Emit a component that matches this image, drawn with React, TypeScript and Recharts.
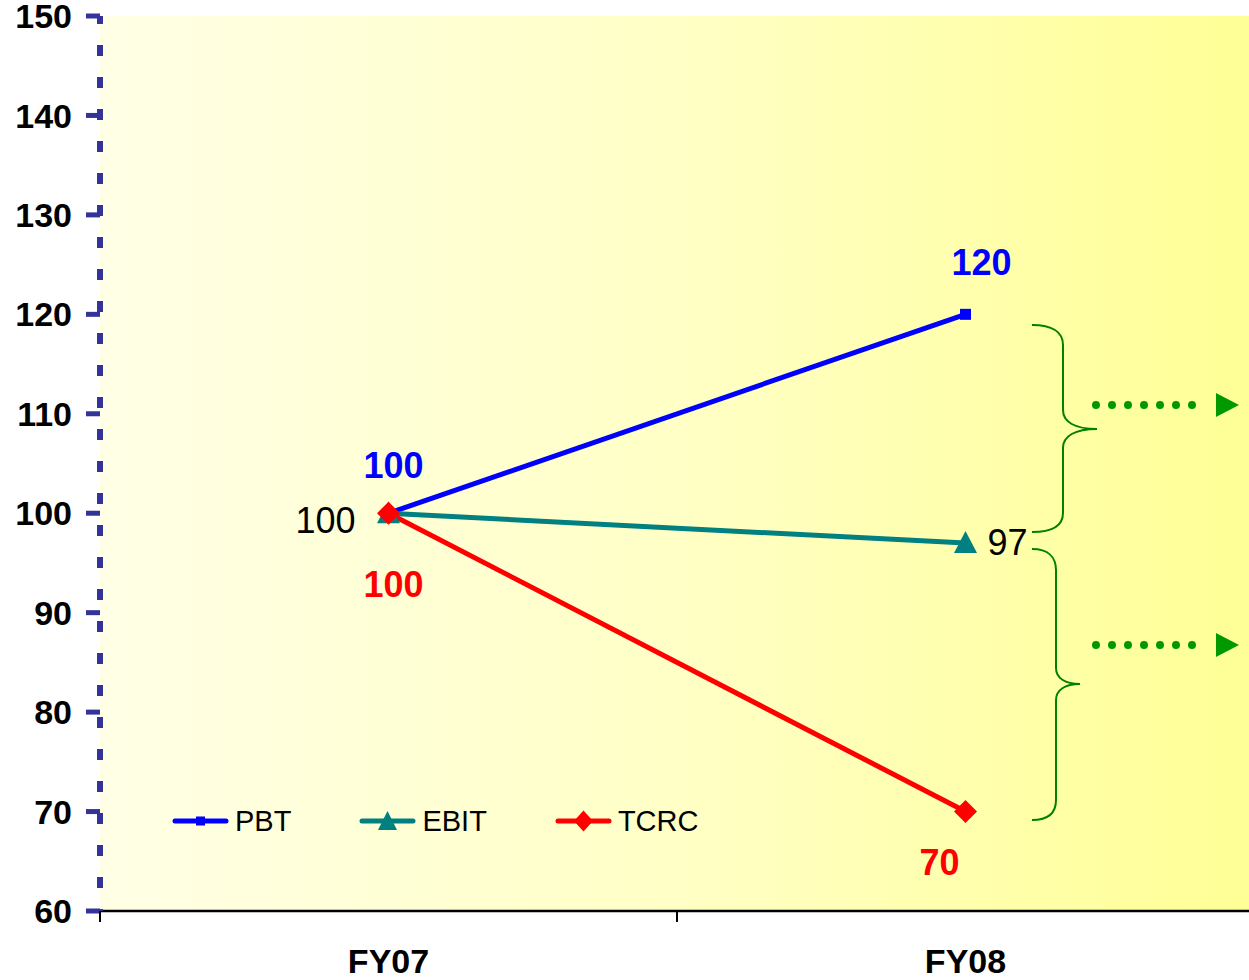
import React from 'react';
import { LineChart, Line, XAxis, YAxis, CartesianGrid, Legend, LabelList } from 'recharts';

const categories = ['FY07', 'FY08'];
const pbtValues = [100, 120];
const ebitValues = [100, 97];
const tcrcValues = [100, 70];
const yTicks = [60, 70, 80, 90, 100, 110, 120, 130, 140, 150];
const seriesNames = ['PBT', 'EBIT', 'TCRC'];

const data = categories.map((c, i) => ({
  pos: i + 0.5,
  name: c,
  PBT: pbtValues[i],
  EBIT: ebitValues[i],
  TCRC: tcrcValues[i],
}));
const xTicks = [0, 0.5, 1, 1.5, 2];

const FONT = '"Liberation Sans", Arial, sans-serif';
const BLUE = '#0000FF';
const TEAL = '#008080';
const RED = '#FF0000';
const AXIS_BLUE = '#333399';
const GREEN = '#008000';
const ARROW_GREEN = '#009900';

const XTick = (props: any) => {
  const { x, y, payload } = props;
  const v = payload.value;
  if (Number.isInteger(v)) {
    return <line x1={x} x2={x} y1={y} y2={y + 11} stroke="#000" strokeWidth={2} />;
  }
  const label = categories[Math.floor(v)];
  return (
    <text x={x} y={y + 62} textAnchor="middle" fill="#000" fontSize={34} fontWeight="bold" fontFamily={FONT}>
      {label}
    </text>
  );
};

type Off = { dx: number; dy: number; anchor: 'start' | 'middle' | 'end' };
const makeLabel = (offsets: Off[], color: string, bold: boolean) => (props: any) => {
  const { x, y, value } = props;
  const i = props.index ?? (x < 677 ? 0 : 1);
  const o = offsets[i];
  if (!o) return null;
  return (
    <text
      x={x + o.dx}
      y={y + o.dy}
      textAnchor={o.anchor}
      fill={color}
      fontSize={36}
      fontWeight={bold ? 'bold' : 'normal'}
      fontFamily={FONT}
    >
      {value}
    </text>
  );
};

const pbtLabel = makeLabel(
  [
    { dx: 5, dy: -35, anchor: 'middle' },
    { dx: 16, dy: -39, anchor: 'middle' },
  ],
  BLUE,
  true
);
const ebitLabel = makeLabel(
  [
    { dx: -33, dy: 20, anchor: 'end' },
    { dx: 22, dy: 12, anchor: 'start' },
  ],
  '#000',
  false
);
const tcrcLabel = makeLabel(
  [
    { dx: 5, dy: 84, anchor: 'middle' },
    { dx: -26, dy: 63, anchor: 'middle' },
  ],
  RED,
  true
);

const squareDot = (p: any) => (
  <rect key={`sq-${p.index}`} x={p.cx - 5.5} y={p.cy - 5.5} width={11} height={11} fill={BLUE} />
);
const triangleDot = (p: any) => (
  <polygon
    key={`tr-${p.index}`}
    points={`${p.cx},${p.cy - 12} ${p.cx + 11.5},${p.cy + 10} ${p.cx - 11.5},${p.cy + 10}`}
    fill={TEAL}
  />
);
const diamondDot = (p: any) => (
  <polygon
    key={`di-${p.index}`}
    points={`${p.cx},${p.cy - 11.5} ${p.cx + 11.5},${p.cy} ${p.cx},${p.cy + 11.5} ${p.cx - 11.5},${p.cy}`}
    fill={RED}
  />
);

const LegendIcon = ({ color, kind }: { color: string; kind: string }) => (
  <svg width={57} height={24} style={{ display: 'block' }}>
    <line x1={3} x2={54} y1={12} y2={12} stroke={color} strokeWidth={5} strokeLinecap="round" />
    {kind === 'square' && <rect x={24} y={7.5} width={9} height={9} fill={color} />}
    {kind === 'triangle' && <polygon points="28.5,2 38,21 19,21" fill={color} />}
    {kind === 'diamond' && <polygon points="28.5,1.5 38,12 28.5,22.5 19,12" fill={color} />}
  </svg>
);

const legendColors = [BLUE, TEAL, RED];
const legendKinds = ['square', 'triangle', 'diamond'];

const LegendContent = () => (
  <div style={{ display: 'flex', alignItems: 'center', fontFamily: FONT, fontSize: 29, color: '#000' }}>
    {seriesNames.map((n, i) => (
      <div key={n} style={{ display: 'flex', alignItems: 'center', marginRight: 68 }}>
        <LegendIcon color={legendColors[i]} kind={legendKinds[i]} />
        <span style={{ marginLeft: 6, lineHeight: '30px' }}>{n}</span>
      </div>
    ))}
  </div>
);

export default function App() {
  return (
    <div style={{ position: 'absolute', left: 0, top: 0, width: 1249, height: 980, overflow: 'hidden', background: '#fff' }}>
      <svg width={0} height={0} style={{ position: 'absolute' }}>
        <defs>
          <linearGradient id="bgGrad" x1="0" y1="0" x2="1" y2="0">
            <stop offset="0%" stopColor="#FFFFE6" />
            <stop offset="50%" stopColor="#FFFFC6" />
            <stop offset="100%" stopColor="#FFFF96" />
          </linearGradient>
        </defs>
      </svg>
      <LineChart width={1254} height={980} data={data} margin={{ top: 16, right: 0, bottom: 0, left: 0 }}>
        <CartesianGrid fill="url(#bgGrad)" fillOpacity={1} stroke="none" horizontal={false} vertical={false} />
        <XAxis
          dataKey="pos"
          type="number"
          domain={[0, 2]}
          ticks={xTicks}
          interval={0}
          height={69}
          tickSize={0}
          tickMargin={0}
          tickLine={false}
          tick={<XTick />}
          axisLine={{ stroke: '#000', strokeWidth: 2.5 }}
        />
        <YAxis
          type="number"
          domain={[60, 150]}
          ticks={yTicks}
          interval={0}
          width={100}
          tickSize={14}
          tickMargin={14}
          tickLine={{ stroke: AXIS_BLUE, strokeWidth: 5 }}
          axisLine={{ stroke: AXIS_BLUE, strokeWidth: 6, strokeDasharray: '11 21', strokeDashoffset: 3 }}
          tick={{ fill: '#000', fontSize: 34, fontWeight: 'bold', fontFamily: FONT }}
        />
        <Legend
          layout="horizontal"
          verticalAlign="middle"
          align="center"
          content={<LegendContent />}
          wrapperStyle={{ position: 'absolute', left: 172, top: 806, width: 'auto', height: 'auto' }}
        />
        <Line dataKey="PBT" stroke={BLUE} strokeWidth={5} dot={squareDot} activeDot={false} isAnimationActive={false}>
          <LabelList dataKey="PBT" content={pbtLabel} />
        </Line>
        <Line dataKey="EBIT" stroke={TEAL} strokeWidth={5} dot={triangleDot} activeDot={false} isAnimationActive={false}>
          <LabelList dataKey="EBIT" content={ebitLabel} />
        </Line>
        <Line dataKey="TCRC" stroke={RED} strokeWidth={5} dot={diamondDot} activeDot={false} isAnimationActive={false}>
          <LabelList dataKey="TCRC" content={tcrcLabel} />
        </Line>
      </LineChart>
      <svg width={1249} height={980} style={{ position: 'absolute', left: 0, top: 0, pointerEvents: 'none' }}>
        <path
          d="M 1032 325 C 1052 325, 1063 332, 1063 345 L 1063 410 C 1063 422, 1075 429, 1097 429 C 1075 429, 1063 436, 1063 448 L 1063 513 C 1063 526, 1052 532, 1032 532"
          fill="none"
          stroke={GREEN}
          strokeWidth={2}
        />
        <path
          d="M 1032 549 C 1048 549, 1056 557, 1056 570 L 1056 668 C 1056 678, 1065 684, 1080 684 C 1065 684, 1056 690, 1056 700 L 1056 800 C 1056 813, 1048 820, 1032 820"
          fill="none"
          stroke={GREEN}
          strokeWidth={2}
        />
        <line x1={1096} x2={1208} y1={405} y2={405} stroke={ARROW_GREEN} strokeWidth={8} strokeDasharray="0 16" strokeLinecap="round" />
        <polygon points="1216,393 1239,405 1216,417" fill={ARROW_GREEN} />
        <line x1={1096} x2={1208} y1={645} y2={645} stroke={ARROW_GREEN} strokeWidth={8} strokeDasharray="0 16" strokeLinecap="round" />
        <polygon points="1216,633 1239,645 1216,657" fill={ARROW_GREEN} />
      </svg>
    </div>
  );
}
